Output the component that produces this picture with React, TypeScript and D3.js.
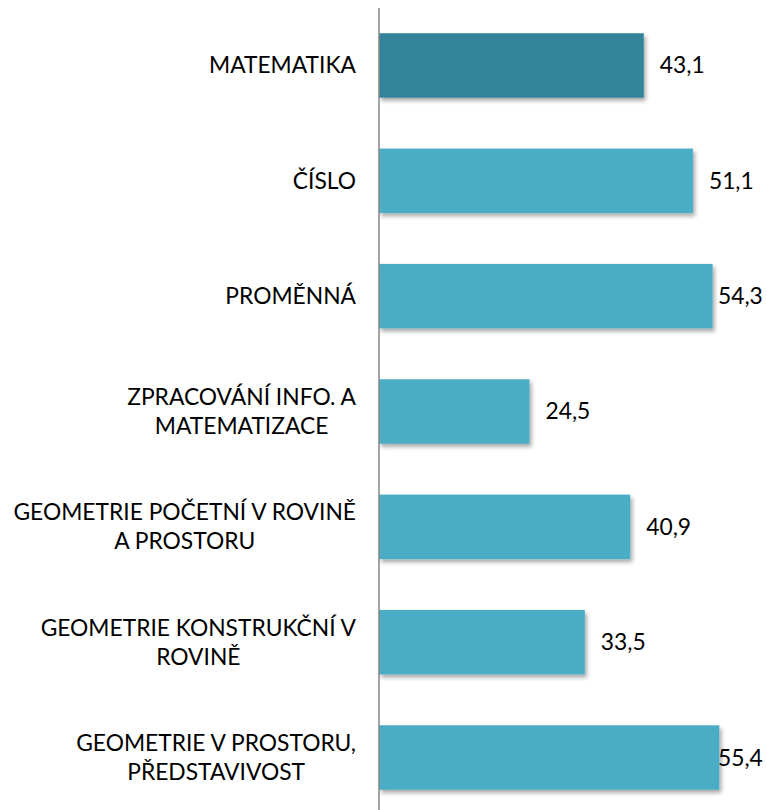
import React, { useEffect, useRef } from "react";
import * as d3 from "d3";

const categories: string[][] = [
  ["MATEMATIKA"],
  ["ČÍSLO"],
  ["PROMĚNNÁ"],
  ["ZPRACOVÁNÍ INFO. A", "MATEMATIZACE"],
  ["GEOMETRIE POČETNÍ V ROVINĚ", "A PROSTORU"],
  ["GEOMETRIE KONSTRUKČNÍ V", "ROVINĚ"],
  ["GEOMETRIE V PROSTORU,", "PŘEDSTAVIVOST"],
];
const values = [43.1, 51.1, 54.3, 24.5, 40.9, 33.5, 55.4];
const valueLabels = ["43,1", "51,1", "54,3", "24,5", "40,9", "33,5", "55,4"];

const W = 767;
const H = 810;
const FONT = "Lato, 'Open Sans', sans-serif";
const FS = 22.8;

export default function App() {
  const svgRef = useRef<SVGSVGElement>(null);

  useEffect(() => {
    if (!svgRef.current) return;
    const svg = d3.select(svgRef.current);
    svg.selectAll("*").remove();

    const x = d3.scaleLinear().domain([0, 60]).range([379, 747.6]);
    const y = d3
      .scaleBand<number>()
      .domain(d3.range(values.length))
      .range([7.8, 815.2])
      .paddingInner(0.441)
      .paddingOuter(0.2205);

    const defs = svg.append("defs");
    const f = defs
      .append("filter")
      .attr("id", "shadow")
      .attr("x", "-5%")
      .attr("y", "-20%")
      .attr("width", "115%")
      .attr("height", "150%");
    f.append("feDropShadow")
      .attr("dx", 2)
      .attr("dy", 3)
      .attr("stdDeviation", 2)
      .attr("flood-color", "#000")
      .attr("flood-opacity", 0.35);

    svg
      .append("g")
      .selectAll("rect")
      .data(values)
      .join("rect")
      .attr("x", x(0))
      .attr("y", (_, i) => y(i)!)
      .attr("width", (d) => x(d) - x(0))
      .attr("height", y.bandwidth())
      .attr("fill", (_, i) => (i === 0 ? "#31849B" : "#4BACC6"))
      .attr("filter", "url(#shadow)");

    // axis line
    svg
      .append("line")
      .attr("x1", x(0))
      .attr("x2", x(0))
      .attr("y1", 8)
      .attr("y2", H)
      .attr("stroke", "#868686")
      .attr("stroke-width", 1.5);

    // value labels
    svg
      .append("g")
      .selectAll("text")
      .data(values)
      .join("text")
      .attr("x", (d) => Math.min(x(d) + 16, 718))
      .attr("y", (_, i) => y(i)! + y.bandwidth() / 2)
      .attr("dy", "0.35em")
      .attr("font-family", FONT)
      .attr("font-size", FS)
      .attr("fill", "#000")
      .text((_, i) => valueLabels[i]);

    // category labels: block right-aligned, lines centered
    const right = 356;
    const lh = 29;
    categories.forEach((lines, i) => {
      const g = svg.append("g");
      const cy = y(i)! + y.bandwidth() / 2;
      const texts = lines.map((ln, j) =>
        g
          .append("text")
          .attr("y", cy + (j - (lines.length - 1) / 2) * lh)
          .attr("dy", "0.35em")
          .attr("text-anchor", "middle")
          .attr("font-family", FONT)
          .attr("font-size", FS)
          .attr("fill", "#000")
          .text(ln)
      );
      const maxW = d3.max(texts, (t) => (t.node() as SVGTextElement).getComputedTextLength()) || 0;
      texts.forEach((t) => t.attr("x", right - maxW / 2));
    });
  }, []);

  return (
    <svg
      ref={svgRef}
      width={W}
      height={H}
      style={{ position: "absolute", left: 0, top: 0, background: "#fff" }}
    />
  );
}
